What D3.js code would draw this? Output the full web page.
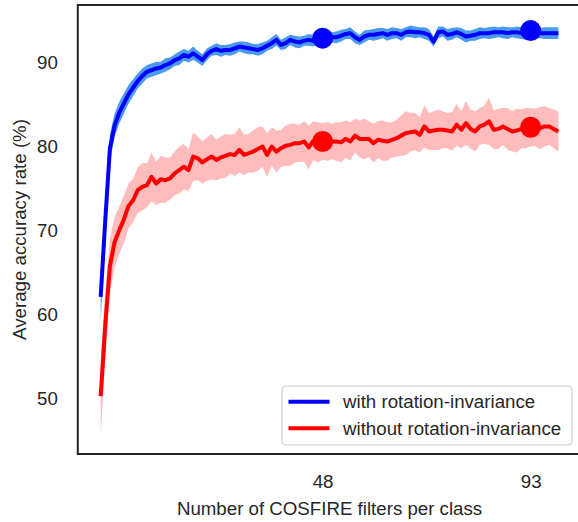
<!DOCTYPE html>
<html><head><meta charset="utf-8">
<script src="https://cdn.jsdelivr.net/npm/d3@7"></script>
<style>body{margin:0;background:#fff}svg{display:block;font-family:"Liberation Sans",Arial,sans-serif}</style>
</head><body><svg id="c" width="578" height="522"></svg>
<script>
const blueMean = [61.8,71.0,79.5,82.2,83.7,84.8,85.9,86.7,87.5,88.1,
88.6,88.8,89.0,89.1,89.4,89.6,90.0,90.2,90.6,90.4,
90.8,90.4,90.0,90.7,91.1,91.3,91.1,91.2,91.2,91.4,
91.6,91.5,91.4,91.3,91.2,91.4,91.7,92.0,92.4,91.8,
92.0,92.4,92.2,92.1,92.3,92.4,92.3,92.5,92.6,92.6,
92.7,92.7,92.9,93.1,93.2,92.7,92.4,92.8,93.0,93.0,
93.1,93.2,93.0,93.2,93.2,93.0,93.3,93.4,93.3,93.3,
93.2,93.0,92.2,93.3,93.4,93.0,93.1,93.3,93.1,92.8,
92.9,93.0,93.2,93.2,93.2,93.3,93.3,93.3,93.2,93.3,
93.3,93.2,93.0,93.4,93.3,93.2,93.2,93.2,93.2,93.2];
const blueStd = [2.8,2.0,1.6,1.4,1.3,1.2,1.1,1.0,0.9,0.9,
0.8,0.8,0.8,0.7,0.8,0.7,0.7,0.8,0.7,0.7,
0.8,0.7,0.7,0.7,0.6,0.7,0.7,0.6,0.7,0.7,
0.6,0.7,0.7,0.6,0.7,0.7,0.6,0.7,0.7,0.6,
0.7,0.6,0.7,0.7,0.6,0.7,0.7,0.6,0.7,0.7,
0.6,0.7,0.7,0.6,0.7,0.7,0.6,0.7,0.6,0.7,
0.7,0.6,0.7,0.7,0.6,0.7,0.6,0.7,0.7,0.6,
0.7,0.7,0.6,0.7,0.6,0.7,0.7,0.6,0.7,0.7,
0.6,0.7,0.7,0.6,0.7,0.7,0.6,0.7,0.7,0.6,
0.7,0.7,0.6,0.7,0.7,0.6,0.7,0.7,0.7,0.7];
const redMean = [50.0,58.5,65.5,68.3,69.7,71.0,72.6,73.3,74.5,74.9,
75.1,76.1,75.3,75.8,75.7,75.9,76.5,76.9,77.3,76.9,
78.5,78.3,77.8,78.2,78.5,78.1,78.4,78.6,78.8,78.7,
79.3,78.7,78.9,79.1,79.4,79.7,78.7,79.7,79.1,79.5,
79.8,79.9,80.1,80.1,80.3,79.6,80.4,80.2,80.3,80.3,
80.3,80.3,80.2,80.6,80.3,81.0,80.6,80.6,80.6,80.1,
80.5,80.4,80.3,80.5,80.7,81.0,81.3,81.4,81.5,81.1,
82.1,81.5,81.6,81.7,81.7,81.6,81.5,82.3,81.7,82.5,
81.8,81.5,82.1,82.3,82.7,81.7,81.8,82.1,81.8,81.5,
81.6,81.8,81.9,82.0,82.0,81.9,82.1,82.1,81.8,81.5];
const redStd = [4.6,4.0,3.2,3.0,2.8,2.8,2.7,2.6,2.7,2.8,
2.6,2.9,2.6,2.8,2.7,2.5,2.6,2.8,2.7,2.5,
2.9,2.6,2.5,2.6,2.7,2.4,2.5,2.6,2.3,2.5,
2.7,2.4,2.3,2.5,2.6,2.4,2.6,2.3,2.5,2.2,
2.4,2.5,2.3,2.2,2.4,2.6,2.3,2.4,2.2,2.3,
2.1,2.3,2.4,2.2,2.3,2.0,2.2,2.4,2.1,2.3,
2.2,2.4,2.3,2.1,2.2,2.4,2.6,2.3,2.2,2.1,
2.5,2.2,2.3,2.4,2.2,2.1,2.3,2.5,2.2,2.6,
2.3,2.4,2.2,2.3,2.8,2.3,2.4,2.2,2.5,2.4,
2.6,2.3,2.4,2.3,2.2,2.5,2.4,2.2,2.3,2.4];
const markerX = [48, 93];
const blueMarkers = [92.6, 93.5];
const redMarkers = [80.3, 82.0];
const xTicks = [48, 93];
const yTicks = [50, 60, 70, 80, 90];
const seriesNames = ["with rotation-invariance", "without rotation-invariance"];

const svg = d3.select("#c");
const L = 77.8, R = 581.3, T = 5, B = 454;
const FS = 18.7;
const x = d3.scaleLinear().domain([-4.95, 103.95]).range([L, R]);
const y = d3.scaleLinear().domain([43.1, 96.55]).range([B, T]);
const txt = "#262626";

function series(mean, std, band, line) {
  const data = mean.map((m, i) => ({i, m, s: std[i]}));
  svg.append("path").datum(data)
    .attr("d", d3.area().x(d => x(d.i)).y0(d => y(d.m - d.s)).y1(d => y(d.m + d.s)))
    .attr("fill", band);
  svg.append("path").datum(data)
    .attr("d", d3.line().x(d => x(d.i)).y(d => y(d.m)))
    .attr("fill", "none").attr("stroke", line).attr("stroke-width", 4)
    .attr("stroke-linejoin", "round");
}
series(blueMean, blueStd, "#4a9bef", "#0000ff");
series(redMean, redStd, "#ffbcbc", "#ff0000");

markerX.forEach((mx, k) => {
  svg.append("circle").attr("cx", x(mx)).attr("cy", y(blueMarkers[k])).attr("r", 10.5).attr("fill", "#0000ff");
  svg.append("circle").attr("cx", x(mx)).attr("cy", y(redMarkers[k])).attr("r", 10.5).attr("fill", "#ff0000");
});

// axes
const xa = svg.append("g").attr("transform", `translate(0,${B})`)
  .call(d3.axisBottom(x).tickValues(xTicks).tickSize(0).tickPadding(21));
const ya = svg.append("g").attr("transform", `translate(${L},0)`)
  .call(d3.axisLeft(y).tickValues(yTicks).tickSize(0).tickPadding(20));
[xa, ya].forEach(a => {
  a.select(".domain").remove();
  a.selectAll("text").attr("font-size", FS).attr("fill", txt).attr("font-family", "Liberation Sans, Arial, sans-serif");
});
ya.selectAll("text").attr("dy", "0.44em");
xa.selectAll("text").attr("dy", "0.71em");

// spines (right spine falls outside the picture)
svg.append("line").attr("x1", L).attr("x2", L).attr("y1", T).attr("y2", B).attr("stroke", txt).attr("stroke-width", 2);
svg.append("line").attr("x1", L - 1).attr("x2", R).attr("y1", B).attr("y2", B).attr("stroke", txt).attr("stroke-width", 2);
svg.append("line").attr("x1", L - 1).attr("x2", R).attr("y1", T).attr("y2", T).attr("stroke", txt).attr("stroke-width", 2);

// labels
svg.append("text").attr("x", (L + R) / 2).attr("y", 515).attr("text-anchor", "middle")
  .attr("font-size", FS).attr("fill", txt).text("Number of COSFIRE filters per class");
svg.append("text").attr("transform", `translate(26,${(T + B) / 2}) rotate(-90)`).attr("text-anchor", "middle")
  .attr("font-size", FS).attr("fill", txt).text("Average accuracy rate (%)");

// legend
const lg = svg.append("g");
lg.append("rect").attr("x", 282).attr("y", 386).attr("width", 290).attr("height", 59).attr("rx", 4)
  .attr("fill", "#fff").attr("fill-opacity", 0.8).attr("stroke", "#cccccc").attr("stroke-width", 1.2);
const lcol = ["#0000ff", "#ff0000"];
seriesNames.forEach((n, k) => {
  const yy = 401.7 + k * 26.6;
  lg.append("line").attr("x1", 288.5).attr("x2", 329.5).attr("y1", yy).attr("y2", yy)
    .attr("stroke", lcol[k]).attr("stroke-width", 4);
  lg.append("text").attr("x", 343).attr("y", yy).attr("dy", "0.36em")
    .attr("font-size", FS).attr("fill", txt).text(n);
});
</script></body></html>
